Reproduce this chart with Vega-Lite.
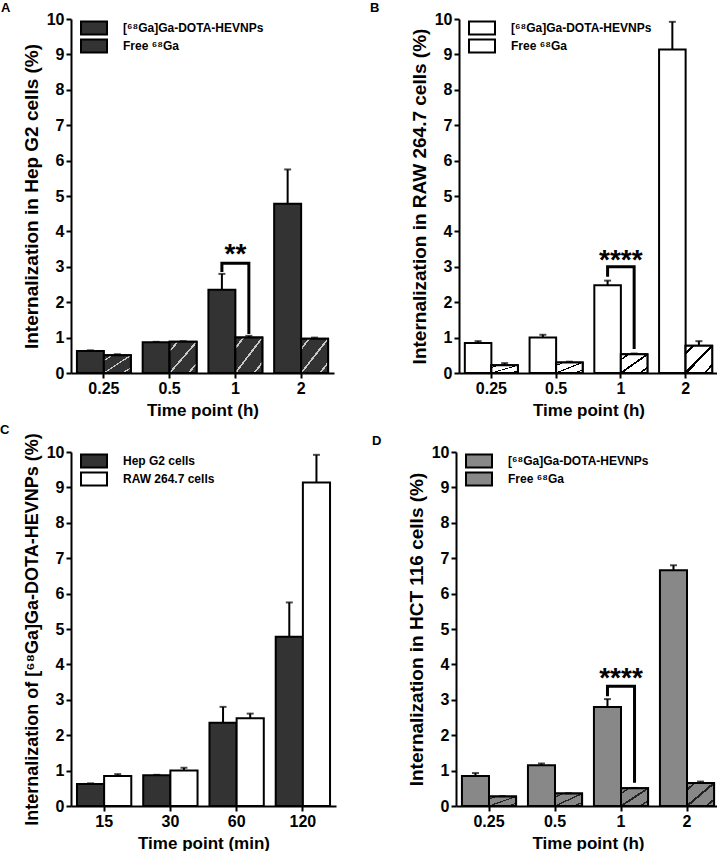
{
  "$schema": "https://vega.github.io/schema/vega-lite/v6.json",
  "background": "white",
  "padding": {"left": 0, "top": 2, "right": 2, "bottom": 0},
  "config": {
    "font": "Liberation Sans",
    "view": {"stroke": null},
    "axis": {"domainColor": "black", "domainWidth": 2, "tickColor": "black", "tickWidth": 2, "tickSize": 5, "labelColor": "black", "labelFontSize": 16, "labelFontWeight": "bold", "titleColor": "black", "titleFontSize": 19, "titleFontWeight": "bold", "grid": false, "labelPadding": 2},
    "axisX": {"labelAngle": 0, "titlePadding": 6, "titleFontSize": 17},
    "axisY": {"titlePadding": 5, "values": [0, 1, 2, 3, 4, 5, 6, 7, 8, 9, 10]},
    "title": {"fontSize": 13, "fontWeight": "bold", "color": "black", "anchor": "start", "frame": "group", "offset": -4},
    "legend": {"orient": "none", "legendX": 9, "legendY": 1.5, "padding": 0, "symbolType": "M-1,-1H3V1H-1Z", "symbolSize": 169, "symbolStrokeColor": "black", "symbolStrokeWidth": 2, "symbolOpacity": 1, "labelFontSize": 12, "labelFontWeight": "bold", "labelColor": "black", "labelOffset": 28, "rowPadding": -5}
  },
  "resolve": {"scale": {"color": "independent", "xOffset": "independent", "x": "independent"}, "legend": {"color": "independent"}},
  "datasets": {
    "bars": [
      {"panel": "A", "time": "0.25", "series": "[⁶⁸Ga]Ga-DOTA-HEVNPs", "value": 0.62, "upper": 0.64},
      {"panel": "A", "time": "0.5", "series": "[⁶⁸Ga]Ga-DOTA-HEVNPs", "value": 0.87, "upper": 0.88},
      {"panel": "A", "time": "1", "series": "[⁶⁸Ga]Ga-DOTA-HEVNPs", "value": 2.35, "upper": 2.8},
      {"panel": "A", "time": "2", "series": "[⁶⁸Ga]Ga-DOTA-HEVNPs", "value": 4.78, "upper": 5.75},
      {"panel": "A", "time": "0.25", "series": "Free ⁶⁸Ga", "value": 0.5, "upper": 0.53},
      {"panel": "A", "time": "0.5", "series": "Free ⁶⁸Ga", "value": 0.88, "upper": 0.9},
      {"panel": "A", "time": "1", "series": "Free ⁶⁸Ga", "value": 1.0, "upper": 1.05},
      {"panel": "A", "time": "2", "series": "Free ⁶⁸Ga", "value": 0.97, "upper": 1.0},
      {"panel": "B", "time": "0.25", "series": "[⁶⁸Ga]Ga-DOTA-HEVNPs", "value": 0.85, "upper": 0.9},
      {"panel": "B", "time": "0.5", "series": "[⁶⁸Ga]Ga-DOTA-HEVNPs", "value": 1.0, "upper": 1.08},
      {"panel": "B", "time": "1", "series": "[⁶⁸Ga]Ga-DOTA-HEVNPs", "value": 2.48, "upper": 2.61},
      {"panel": "B", "time": "2", "series": "[⁶⁸Ga]Ga-DOTA-HEVNPs", "value": 9.14, "upper": 9.92},
      {"panel": "B", "time": "0.25", "series": "Free ⁶⁸Ga", "value": 0.22, "upper": 0.28},
      {"panel": "B", "time": "0.5", "series": "Free ⁶⁸Ga", "value": 0.3, "upper": 0.32},
      {"panel": "B", "time": "1", "series": "Free ⁶⁸Ga", "value": 0.53, "upper": 0.55},
      {"panel": "B", "time": "2", "series": "Free ⁶⁸Ga", "value": 0.77, "upper": 0.9},
      {"panel": "C", "time": "15", "series": "Hep G2 cells", "value": 0.62, "upper": 0.64},
      {"panel": "C", "time": "30", "series": "Hep G2 cells", "value": 0.87, "upper": 0.88},
      {"panel": "C", "time": "60", "series": "Hep G2 cells", "value": 2.35, "upper": 2.8},
      {"panel": "C", "time": "120", "series": "Hep G2 cells", "value": 4.78, "upper": 5.75},
      {"panel": "C", "time": "15", "series": "RAW 264.7 cells", "value": 0.85, "upper": 0.9},
      {"panel": "C", "time": "30", "series": "RAW 264.7 cells", "value": 1.0, "upper": 1.08},
      {"panel": "C", "time": "60", "series": "RAW 264.7 cells", "value": 2.48, "upper": 2.61},
      {"panel": "C", "time": "120", "series": "RAW 264.7 cells", "value": 9.14, "upper": 9.92},
      {"panel": "D", "time": "0.25", "series": "[⁶⁸Ga]Ga-DOTA-HEVNPs", "value": 0.85, "upper": 0.93},
      {"panel": "D", "time": "0.5", "series": "[⁶⁸Ga]Ga-DOTA-HEVNPs", "value": 1.15, "upper": 1.2},
      {"panel": "D", "time": "1", "series": "[⁶⁸Ga]Ga-DOTA-HEVNPs", "value": 2.8, "upper": 3.02},
      {"panel": "D", "time": "2", "series": "[⁶⁸Ga]Ga-DOTA-HEVNPs", "value": 6.66, "upper": 6.8},
      {"panel": "D", "time": "0.25", "series": "Free ⁶⁸Ga", "value": 0.27, "upper": 0.28},
      {"panel": "D", "time": "0.5", "series": "Free ⁶⁸Ga", "value": 0.35, "upper": 0.36},
      {"panel": "D", "time": "1", "series": "Free ⁶⁸Ga", "value": 0.5, "upper": 0.51},
      {"panel": "D", "time": "2", "series": "Free ⁶⁸Ga", "value": 0.65, "upper": 0.69}
    ],
    "brackets": [
      {"panel": "A", "time": "1", "series": "[⁶⁸Ga]Ga-DOTA-HEVNPs", "value": 2.85, "step": 1},
      {"panel": "A", "time": "1", "series": "[⁶⁸Ga]Ga-DOTA-HEVNPs", "value": 3.1, "step": 2},
      {"panel": "A", "time": "1", "series": "Free ⁶⁸Ga", "value": 3.1, "step": 3},
      {"panel": "A", "time": "1", "series": "Free ⁶⁸Ga", "value": 1.1, "step": 4},
      {"panel": "B", "time": "1", "series": "[⁶⁸Ga]Ga-DOTA-HEVNPs", "value": 2.72, "step": 1},
      {"panel": "B", "time": "1", "series": "[⁶⁸Ga]Ga-DOTA-HEVNPs", "value": 3.0, "step": 2},
      {"panel": "B", "time": "1", "series": "Free ⁶⁸Ga", "value": 3.0, "step": 3},
      {"panel": "B", "time": "1", "series": "Free ⁶⁸Ga", "value": 0.68, "step": 4},
      {"panel": "D", "time": "1", "series": "[⁶⁸Ga]Ga-DOTA-HEVNPs", "value": 3.1, "step": 1},
      {"panel": "D", "time": "1", "series": "[⁶⁸Ga]Ga-DOTA-HEVNPs", "value": 3.38, "step": 2},
      {"panel": "D", "time": "1", "series": "Free ⁶⁸Ga", "value": 3.38, "step": 3},
      {"panel": "D", "time": "1", "series": "Free ⁶⁸Ga", "value": 0.66, "step": 4}
    ],
    "sig": [
      {"panel": "A", "time": "1", "value": 3.55, "label": "**"},
      {"panel": "B", "time": "1", "value": 3.38, "label": "****"},
      {"panel": "D", "time": "1", "value": 3.8, "label": "****"}
    ]
  },
  "spacing": 5,
  "vconcat": [
    {
      "spacing": 36,
      "resolve": {"scale": {"color": "independent", "xOffset": "independent", "x": "independent"}, "legend": {"color": "independent"}},
      "hconcat": [
        {
          "width": 263, "height": 354,
          "title": {"text": "A", "dx": -70},
          "encoding": {
            "x": {"field": "time", "type": "ordinal", "scale": {"domain": ["0.25", "0.5", "1", "2"], "paddingInner": 0.18, "paddingOuter": 0.09}, "axis": {"title": "Time point (h)"}},
            "y": {"field": "value", "type": "quantitative", "scale": {"domain": [0, 10], "nice": false}, "axis": {"title": "Internalization in Hep G2 cells (%)"}}
          },
          "layer": [
            {"data": {"name": "bars"}, "transform": [{"filter": "datum.panel === 'A'"}],
             "mark": {"type": "bar", "stroke": "black", "strokeWidth": 2},
             "encoding": {
               "xOffset": {"field": "series", "scale": {"domain": ["[⁶⁸Ga]Ga-DOTA-HEVNPs", "Free ⁶⁸Ga"]}},
               "color": {"field": "series", "type": "nominal", "scale": {"domain": ["[⁶⁸Ga]Ga-DOTA-HEVNPs", "Free ⁶⁸Ga"], "range": ["#333333", "#333333"]},
                 "legend": {"title": null, "encoding": {"symbols": {"stroke": {"value": "black"}, "strokeWidth": {"value": 2}}}}}
             }},
            {"data": {"name": "bars"}, "transform": [{"filter": "datum.panel === 'A' && datum.series === 'Free ⁶⁸Ga'"}],
             "mark": {"type": "bar", "stroke": "black", "strokeWidth": 2, "fill": {"gradient": "linear", "x1": 0, "y1": 0, "x2": 1, "y2": 1, "stops": [{"offset": 0, "color": "#333333"}, {"offset": 0.13, "color": "#333333"}, {"offset": 0.13, "color": "#c8c8c8"}, {"offset": 0.17, "color": "#c8c8c8"}, {"offset": 0.17, "color": "#333333"}, {"offset": 0.48, "color": "#333333"}, {"offset": 0.48, "color": "#c8c8c8"}, {"offset": 0.52, "color": "#c8c8c8"}, {"offset": 0.52, "color": "#333333"}, {"offset": 0.83, "color": "#333333"}, {"offset": 0.83, "color": "#c8c8c8"}, {"offset": 0.87, "color": "#c8c8c8"}, {"offset": 0.87, "color": "#333333"}, {"offset": 1, "color": "#333333"}]}},
             "encoding": {"xOffset": {"field": "series", "scale": {"domain": ["[⁶⁸Ga]Ga-DOTA-HEVNPs", "Free ⁶⁸Ga"]}}}},
            {"data": {"name": "bars"}, "transform": [{"filter": "datum.panel === 'A'"}],
             "mark": {"type": "rule", "color": "black", "strokeWidth": 2},
             "encoding": {"xOffset": {"field": "series"}, "y2": {"field": "upper"}}},
            {"data": {"name": "bars"}, "transform": [{"filter": "datum.panel === 'A'"}],
             "mark": {"type": "tick", "color": "black", "size": 7, "thickness": 2},
             "encoding": {"xOffset": {"field": "series"}, "y": {"field": "upper", "type": "quantitative", "title": "Internalization in Hep G2 cells (%)"}}},
            {"data": {"name": "brackets"}, "transform": [{"filter": "datum.panel === 'A'"}],
             "mark": {"type": "line", "color": "black", "strokeWidth": 3, "strokeJoin": "miter"},
             "encoding": {"xOffset": {"field": "series"}, "order": {"field": "step", "type": "ordinal"}}},
            {"data": {"name": "sig"}, "transform": [{"filter": "datum.panel === 'A'"}],
             "mark": {"type": "text", "fontSize": 28, "fontWeight": "bold", "baseline": "alphabetic", "dy": 16, "color": "black"},
             "encoding": {"text": {"field": "label"}}}
          ]
        },
        {
          "width": 259, "height": 354,
          "title": {"text": "B", "dx": -89},
          "encoding": {
            "x": {"field": "time", "type": "ordinal", "scale": {"domain": ["0.25", "0.5", "1", "2"], "paddingInner": 0.18, "paddingOuter": 0.09}, "axis": {"title": "Time point (h)"}},
            "y": {"field": "value", "type": "quantitative", "scale": {"domain": [0, 10], "nice": false}, "axis": {"title": "Internalization in RAW 264.7 cells (%)"}}
          },
          "layer": [
            {"data": {"name": "bars"}, "transform": [{"filter": "datum.panel === 'B'"}],
             "mark": {"type": "bar", "stroke": "black", "strokeWidth": 2},
             "encoding": {
               "xOffset": {"field": "series", "scale": {"domain": ["[⁶⁸Ga]Ga-DOTA-HEVNPs", "Free ⁶⁸Ga"]}},
               "color": {"field": "series", "type": "nominal", "scale": {"domain": ["[⁶⁸Ga]Ga-DOTA-HEVNPs", "Free ⁶⁸Ga"], "range": ["#ffffff", "#ffffff"]},
                 "legend": {"title": null, "encoding": {"symbols": {"stroke": {"value": "black"}, "strokeWidth": {"value": 2}}}}}
             }},
            {"data": {"name": "bars"}, "transform": [{"filter": "datum.panel === 'B' && datum.series === 'Free ⁶⁸Ga'"}],
             "mark": {"type": "bar", "stroke": "black", "strokeWidth": 2, "fill": {"gradient": "linear", "x1": 0, "y1": 0, "x2": 1, "y2": 1, "stops": [{"offset": 0, "color": "#ffffff"}, {"offset": 0.12, "color": "#ffffff"}, {"offset": 0.12, "color": "#000000"}, {"offset": 0.17, "color": "#000000"}, {"offset": 0.17, "color": "#ffffff"}, {"offset": 0.47, "color": "#ffffff"}, {"offset": 0.47, "color": "#000000"}, {"offset": 0.53, "color": "#000000"}, {"offset": 0.53, "color": "#ffffff"}, {"offset": 0.83, "color": "#ffffff"}, {"offset": 0.83, "color": "#000000"}, {"offset": 0.88, "color": "#000000"}, {"offset": 0.88, "color": "#ffffff"}, {"offset": 1, "color": "#ffffff"}]}},
             "encoding": {"xOffset": {"field": "series", "scale": {"domain": ["[⁶⁸Ga]Ga-DOTA-HEVNPs", "Free ⁶⁸Ga"]}}}},
            {"data": {"name": "bars"}, "transform": [{"filter": "datum.panel === 'B'"}],
             "mark": {"type": "rule", "color": "black", "strokeWidth": 2},
             "encoding": {"xOffset": {"field": "series"}, "y2": {"field": "upper"}}},
            {"data": {"name": "bars"}, "transform": [{"filter": "datum.panel === 'B'"}],
             "mark": {"type": "tick", "color": "black", "size": 7, "thickness": 2},
             "encoding": {"xOffset": {"field": "series"}, "y": {"field": "upper", "type": "quantitative", "title": "Internalization in RAW 264.7 cells (%)"}}},
            {"data": {"name": "brackets"}, "transform": [{"filter": "datum.panel === 'B'"}],
             "mark": {"type": "line", "color": "black", "strokeWidth": 3, "strokeJoin": "miter"},
             "encoding": {"xOffset": {"field": "series"}, "order": {"field": "step", "type": "ordinal"}}},
            {"data": {"name": "sig"}, "transform": [{"filter": "datum.panel === 'B'"}],
             "mark": {"type": "text", "fontSize": 28, "fontWeight": "bold", "baseline": "alphabetic", "dy": 16, "color": "black"},
             "encoding": {"text": {"field": "label"}}}
          ]
        }
      ]
    },
    {
      "spacing": 36,
      "resolve": {"scale": {"color": "independent", "xOffset": "independent", "x": "independent"}, "legend": {"color": "independent"}},
      "hconcat": [
        {
          "width": 265, "height": 354,
          "title": {"text": "C", "dx": -71},
          "encoding": {
            "x": {"field": "time", "type": "ordinal", "scale": {"domain": ["15", "30", "60", "120"], "paddingInner": 0.18, "paddingOuter": 0.09}, "axis": {"title": "Time point (min)"}},
            "y": {"field": "value", "type": "quantitative", "scale": {"domain": [0, 10], "nice": false}, "axis": {"title": "Internalization of [⁶⁸Ga]Ga-DOTA-HEVNPs (%)", "titleFontSize": 18}}
          },
          "layer": [
            {"data": {"name": "bars"}, "transform": [{"filter": "datum.panel === 'C'"}],
             "mark": {"type": "bar", "stroke": "black", "strokeWidth": 2},
             "encoding": {
               "xOffset": {"field": "series", "scale": {"domain": ["Hep G2 cells", "RAW 264.7 cells"]}},
               "color": {"field": "series", "type": "nominal", "scale": {"domain": ["Hep G2 cells", "RAW 264.7 cells"], "range": ["#333333", "#ffffff"]},
                 "legend": {"title": null, "encoding": {"symbols": {"stroke": {"value": "black"}, "strokeWidth": {"value": 2}}}}}
             }},
            {"data": {"name": "bars"}, "transform": [{"filter": "datum.panel === 'C'"}],
             "mark": {"type": "rule", "color": "black", "strokeWidth": 2},
             "encoding": {"xOffset": {"field": "series", "scale": {"domain": ["Hep G2 cells", "RAW 264.7 cells"]}}, "y2": {"field": "upper"}}},
            {"data": {"name": "bars"}, "transform": [{"filter": "datum.panel === 'C'"}],
             "mark": {"type": "tick", "color": "black", "size": 7, "thickness": 2},
             "encoding": {"xOffset": {"field": "series"}, "y": {"field": "upper", "type": "quantitative", "title": "Internalization of [⁶⁸Ga]Ga-DOTA-HEVNPs (%)"}}}
          ]
        },
        {
          "width": 264, "height": 354,
          "title": {"text": "D", "dx": -84},
          "encoding": {
            "x": {"field": "time", "type": "ordinal", "scale": {"domain": ["0.25", "0.5", "1", "2"], "paddingInner": 0.18, "paddingOuter": 0.09}, "axis": {"title": "Time point (h)"}},
            "y": {"field": "value", "type": "quantitative", "scale": {"domain": [0, 10], "nice": false}, "axis": {"title": "Internalization in HCT 116 cells (%)"}}
          },
          "layer": [
            {"data": {"name": "bars"}, "transform": [{"filter": "datum.panel === 'D'"}],
             "mark": {"type": "bar", "stroke": "black", "strokeWidth": 2},
             "encoding": {
               "xOffset": {"field": "series", "scale": {"domain": ["[⁶⁸Ga]Ga-DOTA-HEVNPs", "Free ⁶⁸Ga"]}},
               "color": {"field": "series", "type": "nominal", "scale": {"domain": ["[⁶⁸Ga]Ga-DOTA-HEVNPs", "Free ⁶⁸Ga"], "range": ["#888888", "#888888"]},
                 "legend": {"title": null, "encoding": {"symbols": {"stroke": {"value": "black"}, "strokeWidth": {"value": 2}}}}}
             }},
            {"data": {"name": "bars"}, "transform": [{"filter": "datum.panel === 'D' && datum.series === 'Free ⁶⁸Ga'"}],
             "mark": {"type": "bar", "stroke": "black", "strokeWidth": 2, "fill": {"gradient": "linear", "x1": 0, "y1": 0, "x2": 1, "y2": 1, "stops": [{"offset": 0, "color": "#888888"}, {"offset": 0.12, "color": "#888888"}, {"offset": 0.12, "color": "#222222"}, {"offset": 0.17, "color": "#222222"}, {"offset": 0.17, "color": "#888888"}, {"offset": 0.47, "color": "#888888"}, {"offset": 0.47, "color": "#222222"}, {"offset": 0.53, "color": "#222222"}, {"offset": 0.53, "color": "#888888"}, {"offset": 0.83, "color": "#888888"}, {"offset": 0.83, "color": "#222222"}, {"offset": 0.88, "color": "#222222"}, {"offset": 0.88, "color": "#888888"}, {"offset": 1, "color": "#888888"}]}},
             "encoding": {"xOffset": {"field": "series", "scale": {"domain": ["[⁶⁸Ga]Ga-DOTA-HEVNPs", "Free ⁶⁸Ga"]}}}},
            {"data": {"name": "bars"}, "transform": [{"filter": "datum.panel === 'D'"}],
             "mark": {"type": "rule", "color": "black", "strokeWidth": 2},
             "encoding": {"xOffset": {"field": "series"}, "y2": {"field": "upper"}}},
            {"data": {"name": "bars"}, "transform": [{"filter": "datum.panel === 'D'"}],
             "mark": {"type": "tick", "color": "black", "size": 7, "thickness": 2},
             "encoding": {"xOffset": {"field": "series"}, "y": {"field": "upper", "type": "quantitative", "title": "Internalization in HCT 116 cells (%)"}}},
            {"data": {"name": "brackets"}, "transform": [{"filter": "datum.panel === 'D'"}],
             "mark": {"type": "line", "color": "black", "strokeWidth": 3, "strokeJoin": "miter"},
             "encoding": {"xOffset": {"field": "series"}, "order": {"field": "step", "type": "ordinal"}}},
            {"data": {"name": "sig"}, "transform": [{"filter": "datum.panel === 'D'"}],
             "mark": {"type": "text", "fontSize": 28, "fontWeight": "bold", "baseline": "alphabetic", "dy": 16, "color": "black"},
             "encoding": {"text": {"field": "label"}}}
          ]
        }
      ]
    }
  ]
}
